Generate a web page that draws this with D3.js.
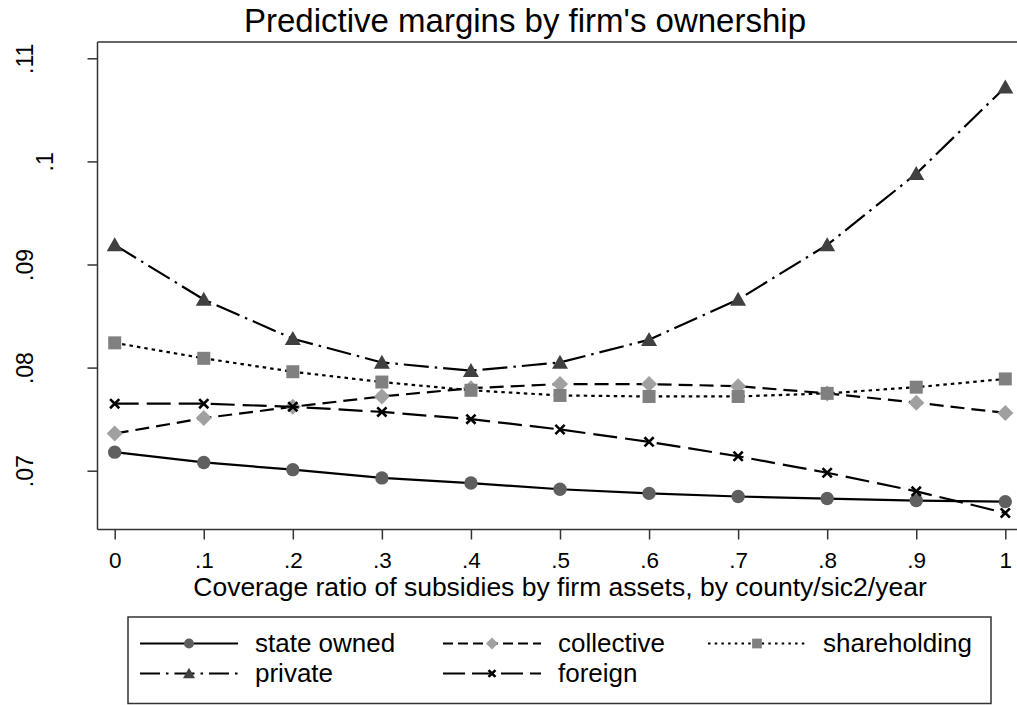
<!DOCTYPE html>
<html>
<head>
<meta charset="utf-8">
<script src="https://cdn.jsdelivr.net/npm/d3@7"></script>
<style>
  html, body { margin: 0; padding: 0; background: #fff; }
  svg { display: block; font-family: "Liberation Sans", Arial, Helvetica, sans-serif; }
</style>
</head>
<body>
<svg id="chart" width="1017" height="705"></svg>
<script>
// ---- Data ----
const xValues = [0, 0.1, 0.2, 0.3, 0.4, 0.5, 0.6, 0.7, 0.8, 0.9, 1];
const xTickLabels = ["0", ".1", ".2", ".3", ".4", ".5", ".6", ".7", ".8", ".9", "1"];
const yTickValues = [0.07, 0.08, 0.09, 0.10, 0.11];
const yTickLabels = [".07", ".08", ".09", ".1", ".11"];

const stateOwned   = [0.0718, 0.0708, 0.0701, 0.0693, 0.0688, 0.0682, 0.0678, 0.0675, 0.0673, 0.0671, 0.0670];
const collective   = [0.0736, 0.0751, 0.0762, 0.0772, 0.0780, 0.0784, 0.0784, 0.0782, 0.0775, 0.0766, 0.0756];
const shareholding = [0.0824, 0.0809, 0.0796, 0.0786, 0.0778, 0.0773, 0.0772, 0.0772, 0.0775, 0.0781, 0.0789];
const privateFirm  = [0.0919, 0.0866, 0.0828, 0.0805, 0.0797, 0.0805, 0.0827, 0.0866, 0.0919, 0.0988, 0.1072];
const foreign      = [0.0765, 0.0765, 0.0762, 0.0757, 0.0750, 0.0740, 0.0728, 0.0714, 0.0698, 0.0680, 0.0659];

const seriesNames = ["state owned", "collective", "shareholding", "private", "foreign"];
const titleText = "Predictive margins by firm's ownership";
const xTitleText = "Coverage ratio of subsidies by firm assets, by county/sic2/year";

// ---- Styles ----
const styles = {
  "state owned":  { dash: null,          marker: "circle",   fill: "#5f5f5f" },
  "collective":   { dash: "14,7",        marker: "diamond",  fill: "#a0a0a0" },
  "shareholding": { dash: "3.5,4",       marker: "square",   fill: "#808080" },
  "private":      { dash: "25,6,2.5,6",  marker: "triangle", fill: "#404040" },
  "foreign":      { dash: "24,8",        marker: "cross",    fill: "#000" }
};
const legendDash = {
  "state owned": null, "collective": "10,5", "shareholding": "2.5,4.2",
  "private": "20,6,2.5,6", "foreign": "22,7"
};

const series = [
  { name: "state owned", values: stateOwned },
  { name: "collective", values: collective },
  { name: "shareholding", values: shareholding },
  { name: "private", values: privateFirm },
  { name: "foreign", values: foreign }
];

const svg = d3.select("#chart");
const plot = { left: 97.5, right: 1017, top: 42, bottom: 529.5 };
const FONT = "Liberation Sans, Arial, Helvetica, sans-serif";

const x = d3.scaleLinear().domain([0, 1]).range([114.7, 1005.3]);
const y = d3.scaleLinear().domain([0.07, 0.11]).range([470.7, 58.3]);

// frame
svg.append("line").attr("x1", plot.left).attr("x2", plot.right).attr("y1", plot.top).attr("y2", plot.top)
  .attr("stroke", "#333").attr("stroke-width", 1.5);

// axes
const xAxis = svg.append("g").attr("transform", `translate(0,${plot.bottom})`)
  .call(d3.axisBottom(x).tickValues(xValues).tickFormat((d, i) => xTickLabels[i]).tickSize(10).tickPadding(0).tickSizeOuter(0));
xAxis.attr("font-size", null).attr("font-family", null);
xAxis.select(".domain").attr("d", `M${plot.left},0H${plot.right}`).attr("stroke", "#333").attr("stroke-width", 1.5);
xAxis.selectAll(".tick line").attr("stroke", "#333").attr("stroke-width", 1.5);
xAxis.selectAll(".tick text")
  .style("font-size", "22.5px").style("font-family", FONT).attr("fill", "#000")
  .attr("y", 567.5 - plot.bottom).attr("dy", null);

const yAxis = svg.append("g").attr("transform", `translate(${plot.left},0)`)
  .call(d3.axisLeft(y).tickValues(yTickValues).tickFormat((d, i) => yTickLabels[i]).tickSize(10).tickSizeOuter(0));
yAxis.attr("font-size", null).attr("font-family", null);
yAxis.select(".domain").attr("d", `M0,${plot.top}V${plot.bottom}`).attr("stroke", "#333").attr("stroke-width", 1.5);
yAxis.selectAll(".tick line").attr("stroke", "#333").attr("stroke-width", 1.5);
yAxis.selectAll(".tick text")
  .style("font-size", "23px").style("font-family", FONT).attr("fill", "#000")
  .attr("text-anchor", "middle").attr("x", null).attr("dy", null)
  .attr("transform", (d, i) => `translate(${93 - 20 * yTickLabels[i].length - plot.left},0) rotate(-90)`);

// title & axis title
svg.append("text").attr("x", 525).attr("y", 31.7).attr("text-anchor", "middle")
  .style("font-size", "33px").text(titleText);
svg.append("text").attr("x", 560).attr("y", 595.5).attr("text-anchor", "middle")
  .style("font-size", "26.5px").text(xTitleText);

// markers
function drawMarker(g, type, cx, cy, fill, scale) {
  const s = scale || 1;
  if (type === "circle") {
    g.append("circle").attr("cx", cx).attr("cy", cy).attr("r", 6.7 * s).attr("fill", fill);
  } else if (type === "diamond") {
    const r = 8 * s;
    g.append("path").attr("d", `M${cx},${cy - r}L${cx + r},${cy}L${cx},${cy + r}L${cx - r},${cy}Z`).attr("fill", fill);
  } else if (type === "square") {
    const h = 6.5 * s;
    g.append("rect").attr("x", cx - h).attr("y", cy - h).attr("width", 2 * h).attr("height", 2 * h).attr("fill", fill);
  } else if (type === "triangle") {
    const w = 8 * s, h = 14 * s;
    g.append("path").attr("d", `M${cx},${cy - h * 0.55}L${cx + w},${cy + h * 0.45}L${cx - w},${cy + h * 0.45}Z`).attr("fill", fill);
  } else if (type === "cross") {
    const r = 4.6 * s;
    g.append("path").attr("d", `M${cx - r},${cy - r}L${cx + r},${cy + r}M${cx - r},${cy + r}L${cx + r},${cy - r}`)
      .attr("stroke", fill).attr("stroke-width", 2.6).attr("fill", "none");
  }
}

const line = d3.line().x((d, i) => x(xValues[i])).y(d => y(d));
series.forEach(s => {
  const st = styles[s.name];
  const g = svg.append("g");
  g.append("path").attr("d", line(s.values)).attr("fill", "none").attr("stroke", "#000")
    .attr("stroke-width", 2.2).attr("stroke-dasharray", st.dash);
  s.values.forEach((v, i) => drawMarker(g, st.marker, x(xValues[i]), y(v), st.fill, 1));
});

// legend
const legend = svg.append("g");
legend.append("rect").attr("x", 128).attr("y", 617).attr("width", 863).attr("height", 86.5)
  .attr("fill", "#fff").attr("stroke", "#333").attr("stroke-width", 1.5);
const legendPos = [
  { col: 0, row: 0 }, { col: 1, row: 0 }, { col: 2, row: 0 }, { col: 0, row: 1 }, { col: 1, row: 1 }
];
const colX = [140, 443, 708];
const rowY = [643.5, 673.5];
seriesNames.forEach((name, i) => {
  const p = legendPos[i];
  const st = styles[name];
  const x0 = colX[p.col], x1 = x0 + 98, cy = rowY[p.row];
  const g = legend.append("g");
  g.append("line").attr("x1", x0).attr("x2", x1).attr("y1", cy).attr("y2", cy)
    .attr("stroke", "#000").attr("stroke-width", 2.2).attr("stroke-dasharray", legendDash[name]);
  drawMarker(g, st.marker, (x0 + x1) / 2, cy, st.fill, 0.75);
  g.append("text").attr("x", x1 + 17).attr("y", cy + 8.4).style("font-size", "26px").text(name);
});
</script>
</body>
</html>
